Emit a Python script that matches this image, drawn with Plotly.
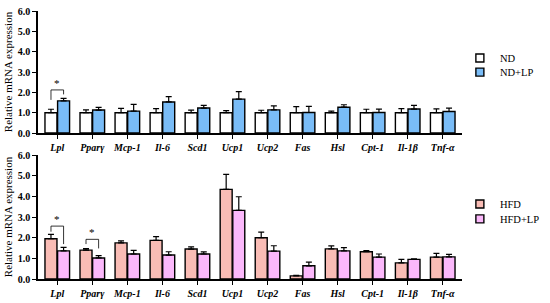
import plotly.graph_objects as go
from plotly.subplots import make_subplots

genes = ["Lpl", "Pparγ", "Mcp-1", "Il-6", "Scd1", "Ucp1", "Ucp2", "Fas", "Hsl", "Cpt-1", "Il-1β", "Tnf-α"]
y_ticks = [0, 1, 2, 3, 4, 5, 6]

# normal diet panel
nd = [1.0, 1.0, 1.0, 1.0, 1.0, 1.0, 1.0, 1.0, 1.0, 1.0, 1.0, 1.0]
nd_err = [0.17, 0.14, 0.21, 0.20, 0.13, 0.10, 0.12, 0.30, 0.08, 0.17, 0.20, 0.19]
nd_lp = [1.58, 1.13, 1.08, 1.53, 1.23, 1.67, 1.14, 1.01, 1.27, 1.01, 1.18, 1.06]
nd_lp_err = [0.12, 0.13, 0.33, 0.26, 0.13, 0.37, 0.20, 0.30, 0.12, 0.17, 0.18, 0.17]

# high fat diet panel
hfd = [1.95, 1.40, 1.75, 1.87, 1.45, 4.34, 2.00, 0.15, 1.46, 1.32, 0.78, 1.06]
hfd_err = [0.21, 0.07, 0.10, 0.18, 0.11, 0.72, 0.27, 0.03, 0.14, 0.05, 0.17, 0.18]
hfd_lp = [1.36, 1.02, 1.21, 1.16, 1.21, 3.32, 1.35, 0.64, 1.36, 1.06, 0.95, 1.07]
hfd_lp_err = [0.17, 0.11, 0.18, 0.16, 0.10, 0.66, 0.26, 0.18, 0.16, 0.15, 0.03, 0.12]

# significance brackets: (row, gene index, bracket height, left tip, right tip)
sig = [
    (1, 0, 2.12, 1.63, 1.90),
    (2, 0, 2.56, 2.29, 1.69),
    (2, 1, 1.92, 1.69, 1.48),
]

FONT = "Liberation Serif, DejaVu Serif, serif"
OFF = 0.18

fig = make_subplots(rows=2, cols=1, vertical_spacing=0.0)


def add_bar(row, vals, err, color, name, legend):
    fig.add_trace(go.Bar(
        x=list(range(len(genes))), y=vals, name=name, showlegend=False,
        marker=dict(color=color, line=dict(color="black", width=1.4)),
        error_y=dict(type="data", array=err, arrayminus=[0] * len(err), symmetric=False,
                     color="black", thickness=1.2, width=3),
    ), row=row, col=1)
    # small square legend key
    fig.add_trace(go.Scatter(
        x=[None], y=[None], mode="markers", name=name, legend=legend,
        marker=dict(symbol="square", size=8, color=color, line=dict(color="black", width=1.4)),
    ), row=row, col=1)


add_bar(1, nd, nd_err, "white", "ND", "legend")
add_bar(1, nd_lp, nd_lp_err, "#79bcf7", "ND+LP", "legend2")
add_bar(2, hfd, hfd_err, "#f9bcb5", "HFD", "legend3")
add_bar(2, hfd_lp, hfd_lp_err, "#fbb8fb", "HFD+LP", "legend4")

for row, gi, yb, yl, yr in sig:
    xr = "x" if row == 1 else "x2"
    yref = "y" if row == 1 else "y2"
    x0, x1 = gi - OFF, gi + OFF
    fig.add_shape(type="path", xref=xr, yref=yref,
                  path=f"M {x0},{yl} L {x0},{yb} L {x1},{yb} L {x1},{yr}",
                  line=dict(color="black", width=0.8))
    fig.add_annotation(x=gi, y=yb, xref=xr, yref=yref, text="*", showarrow=False,
                       yshift=7, font=dict(family=FONT, size=11, color="black"))

tick_text = [f"<i>{g}</i>" for g in genes]
for r in (1, 2):
    fig.update_xaxes(tickvals=list(range(len(genes))), ticktext=tick_text, range=[-0.55, 11.55],
                     showline=True, linecolor="black", linewidth=1.5, ticks="outside", ticklen=4,
                     tickwidth=1.3, tickcolor="black", showgrid=False, zeroline=False,
                     tickfont=dict(family=FONT, size=10, color="black", weight="bold"),
                     automargin=False, row=r, col=1)
    fig.update_yaxes(range=[0, 6], tickvals=y_ticks, tickformat=".1f",
                     showline=True, linecolor="black", linewidth=1.5, ticks="outside", ticklen=4,
                     tickwidth=1.3, tickcolor="black", showgrid=False, zeroline=False,
                     tickfont=dict(family=FONT, size=10, color="black", weight="bold"),
                     title=dict(text="Relative mRNA expression", standoff=3,
                                font=dict(family=FONT, size=11, color="black")),
                     automargin=False, row=r, col=1)

leg = dict(x=0.995, xanchor="left", yanchor="middle", bgcolor="rgba(0,0,0,0)",
           font=dict(family=FONT, size=10.5, color="black"), itemwidth=30)

fig.update_layout(
    width=550, height=303,
    margin=dict(l=38, r=69, t=5, b=5),
    plot_bgcolor="white", paper_bgcolor="white",
    barmode="group", bargap=0.28, bargroupgap=0.05,
    xaxis=dict(domain=[0, 1]), xaxis2=dict(domain=[0, 1]),
    yaxis=dict(domain=[0.563, 0.9795]), yaxis2=dict(domain=[0.0648, 0.488]),
    legend=dict(leg, y=0.819),
    legend2=dict(leg, y=0.771),
    legend3=dict(leg, y=0.321),
    legend4=dict(leg, y=0.270),
)

fig.write_html("out.html", config={"displayModeBar": False},
               post_script="document.body.style.margin='0';")
